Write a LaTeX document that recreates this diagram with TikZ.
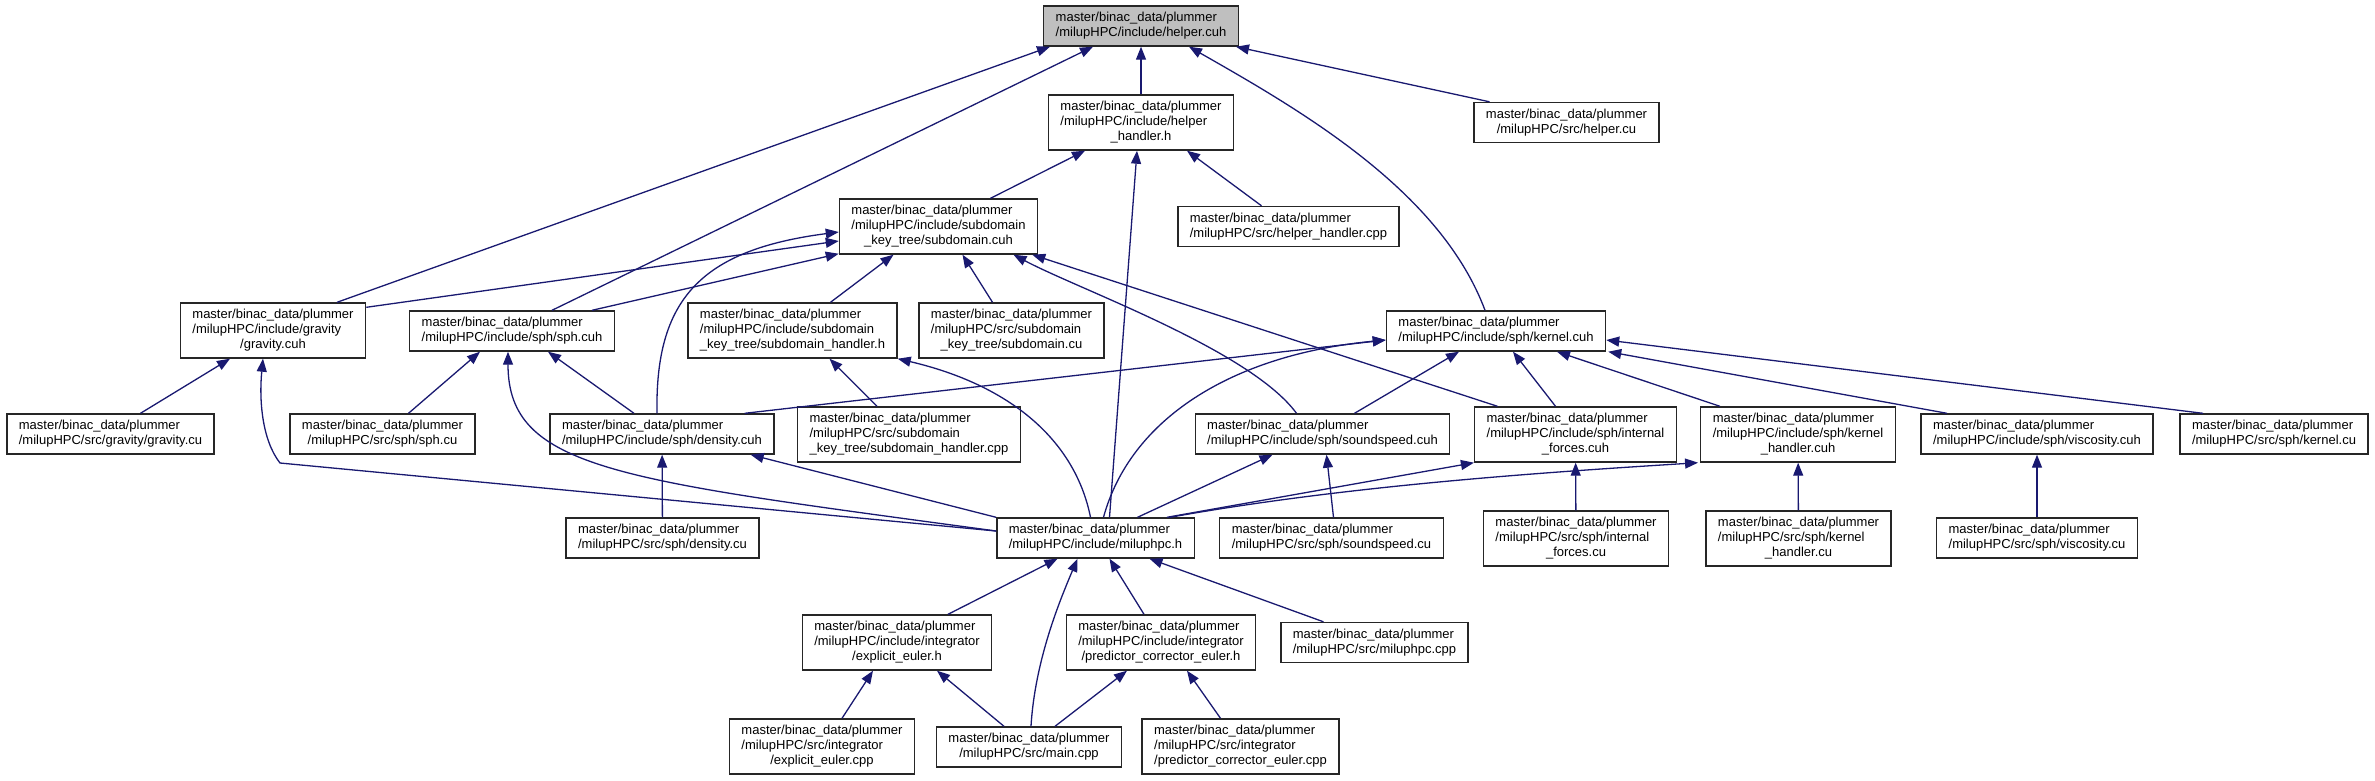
\documentclass[tikz,border=0pt]{standalone}
\usepackage{fontspec}
\setmainfont{Liberation Sans}
\usetikzlibrary{arrows.meta}
\definecolor{edgeblue}{HTML}{191970}
\definecolor{rootgray}{HTML}{BFBFBF}
\newcommand{\twoline}[2]{\begin{tabular}{@{}l@{}}#1\\\multicolumn{1}{@{}c@{}}{#2}\end{tabular}}
\newcommand{\threeline}[3]{\begin{tabular}{@{}l@{}}#1\\#2\\\multicolumn{1}{@{}c@{}}{#3}\end{tabular}}
\begin{document}
\begin{tikzpicture}[
  x=1pt, y=-1pt,
  file/.style={draw=black!85, line width=1.4pt, fill=white, inner xsep=12pt, inner ysep=5pt, font=\fontsize{13}{15}\selectfont},
  rootfile/.style={file, fill=rootgray},
  incl/.style={draw=edgeblue, line width=1.3pt, -{Triangle[length=13pt,width=10pt]}}
]
\useasboundingbox (0,0) rectangle (2375,780);

\node[rootfile] (helper) at (1141,26) {\twoline{master/binac\_data/plummer}{/milupHPC/include/helper.cuh}};
\node[file] (helperh) at (1141,122.5) {\threeline{master/binac\_data/plummer}{/milupHPC/include/helper}{\_handler.h}};
\node[file] (helpercu) at (1566.5,122.5) {\twoline{master/binac\_data/plummer}{/milupHPC/src/helper.cu}};
\node[file] (subdomain) at (938.5,226.5) {\threeline{master/binac\_data/plummer}{/milupHPC/include/subdomain}{\_key\_tree/subdomain.cuh}};
\node[file] (helperhcpp) at (1288.5,226.5) {\twoline{master/binac\_data/plummer}{/milupHPC/src/helper\_handler.cpp}};

\node[file] (gravityh) at (273,330.5) {\threeline{master/binac\_data/plummer}{/milupHPC/include/gravity}{/gravity.cuh}};
\node[file] (sphh) at (512,331) {\twoline{master/binac\_data/plummer}{/milupHPC/include/sph/sph.cuh}};
\node[file] (subdomainh) at (792.5,330.5) {\threeline{master/binac\_data/plummer}{/milupHPC/include/subdomain}{\_key\_tree/subdomain\_handler.h}};
\node[file] (subdomaincu) at (1011.5,330.5) {\threeline{master/binac\_data/plummer}{/milupHPC/src/subdomain}{\_key\_tree/subdomain.cu}};
\node[file] (kernelh) at (1496,331) {\twoline{master/binac\_data/plummer}{/milupHPC/include/sph/kernel.cuh}};

\node[file] (gravitycu) at (110.5,434) {\twoline{master/binac\_data/plummer}{/milupHPC/src/gravity/gravity.cu}};
\node[file] (sphcu) at (382.5,434) {\twoline{master/binac\_data/plummer}{/milupHPC/src/sph/sph.cu}};
\node[file] (densityh) at (662,434) {\twoline{master/binac\_data/plummer}{/milupHPC/include/sph/density.cuh}};
\node[file] (subdomainhcpp) at (909,434.5) {\threeline{master/binac\_data/plummer}{/milupHPC/src/subdomain}{\_key\_tree/subdomain\_handler.cpp}};
\node[file] (soundspeedh) at (1322.5,434) {\twoline{master/binac\_data/plummer}{/milupHPC/include/sph/soundspeed.cuh}};
\node[file] (forcesh) at (1575.5,434.5) {\threeline{master/binac\_data/plummer}{/milupHPC/include/sph/internal}{\_forces.cuh}};
\node[file] (kernelhh) at (1798,434.5) {\threeline{master/binac\_data/plummer}{/milupHPC/include/sph/kernel}{\_handler.cuh}};
\node[file] (viscosityh) at (2037,434) {\twoline{master/binac\_data/plummer}{/milupHPC/include/sph/viscosity.cuh}};
\node[file] (kernelcu) at (2274,434) {\twoline{master/binac\_data/plummer}{/milupHPC/src/sph/kernel.cu}};

\node[file] (densitycu) at (662.5,538) {\twoline{master/binac\_data/plummer}{/milupHPC/src/sph/density.cu}};
\node[file] (miluphpch) at (1095.5,538) {\twoline{master/binac\_data/plummer}{/milupHPC/include/miluphpc.h}};
\node[file] (soundspeedcu) at (1331.5,538) {\twoline{master/binac\_data/plummer}{/milupHPC/src/sph/soundspeed.cu}};
\node[file] (forcescu) at (1576,538.5) {\threeline{master/binac\_data/plummer}{/milupHPC/src/sph/internal}{\_forces.cu}};
\node[file] (kernelhcu) at (1798.5,538.5) {\threeline{master/binac\_data/plummer}{/milupHPC/src/sph/kernel}{\_handler.cu}};
\node[file] (viscositycu) at (2037,538) {\twoline{master/binac\_data/plummer}{/milupHPC/src/sph/viscosity.cu}};

\node[file] (eulerh) at (897,642.5) {\threeline{master/binac\_data/plummer}{/milupHPC/include/integrator}{/explicit\_euler.h}};
\node[file] (predh) at (1161,642.5) {\threeline{master/binac\_data/plummer}{/milupHPC/include/integrator}{/predictor\_corrector\_euler.h}};
\node[file] (miluphpccpp) at (1374.5,642.5) {\twoline{master/binac\_data/plummer}{/milupHPC/src/miluphpc.cpp}};

\node[file] (eulercpp) at (822,746.5) {\threeline{master/binac\_data/plummer}{/milupHPC/src/integrator}{/explicit\_euler.cpp}};
\node[file] (maincpp) at (1029,747) {\twoline{master/binac\_data/plummer}{/milupHPC/src/main.cpp}};
\node[file] (predcpp) at (1240.5,746.5) {\threeline{master/binac\_data/plummer}{/milupHPC/src/integrator}{/predictor\_corrector\_euler.cpp}};

\coordinate (gbend) at (280,463);

\draw[incl] ([xshift=64pt]gravityh.north) -- ([xshift=-91pt]helper.south);
\draw[incl] ([xshift=40pt]sphh.north) -- ([xshift=-48pt]helper.south);
\draw[incl] (helperh) -- (helper);
\draw[incl] ([xshift=-11pt]kernelh.north) .. controls (1440,190) and (1300,110) .. ([xshift=48pt]helper.south);
\draw[incl] ([xshift=-77pt]helpercu.north) -- ([xshift=-3pt]helper.south east);

\draw[incl] ([xshift=52pt]subdomain.north) -- ([xshift=-56pt]helperh.south);
\draw[incl] ([xshift=-27pt]helperhcpp.north) -- ([xshift=46pt]helperh.south);
\draw[incl] ([xshift=14pt]miluphpch.north) -- ([xshift=-4pt]helperh.south);

\draw[incl] ([yshift=-5pt]gravityh.north east) -- ([yshift=-14.5pt]subdomain.west);
\draw[incl] ([xshift=80pt]sphh.north) -- ([yshift=1pt]subdomain.south west);
\draw[incl] ([xshift=-5pt]densityh.north) .. controls (655,300) and (700,250) .. ([yshift=-5.5pt]subdomain.west);
\draw[incl] ([xshift=38pt]subdomainh.north) -- ([xshift=-45pt]subdomain.south);
\draw[incl] ([xshift=-19pt]subdomaincu.north) -- ([xshift=24pt]subdomain.south);
\draw[incl] ([xshift=-26pt]soundspeedh.north) .. controls (1250,350) and (1080,290) .. ([xshift=75pt]subdomain.south);
\draw[incl] ([xshift=-78pt]forcesh.north) -- ([xshift=-6pt]subdomain.south east);

\draw[incl] ([xshift=-32pt]subdomainhcpp.north) -- ([xshift=37pt]subdomainh.south);
\draw[incl] ([xshift=-5pt]miluphpch.north) .. controls (1075,440) and (1010,385) .. (subdomainh.south east);

\draw[incl] ([xshift=-30pt]densityh.north east) -- ([yshift=-9pt]kernelh.west);
\draw[incl] ([xshift=8pt]miluphpch.north) .. controls (1130,420) and (1230,355) .. ([yshift=-9pt]kernelh.west);
\draw[incl] ([xshift=32pt]soundspeedh.north) -- ([xshift=-37pt]kernelh.south);
\draw[incl] ([xshift=-20pt]forcesh.north) -- ([xshift=17pt]kernelh.south);
\draw[incl] ([xshift=-78pt]kernelhh.north) -- ([xshift=61pt]kernelh.south);
\draw[incl] ([xshift=-90pt]viscosityh.north) -- ([xshift=2pt]kernelh.south east);
\draw[incl] ([xshift=-71pt]kernelcu.north) -- ([yshift=-9pt]kernelh.east);

\draw[incl] ([xshift=26pt]sphcu.north) -- ([xshift=-32pt]sphh.south);
\draw[incl] ([xshift=-28pt]densityh.north) -- ([xshift=36pt]sphh.south);
\draw[incl] ([yshift=7pt]miluphpch.west) .. controls (620,480) and (508,470) .. ([xshift=-4pt]sphh.south);
\draw[incl] ([xshift=30pt]gravitycu.north) -- ([xshift=-43pt]gravityh.south);
\draw[incl] ([yshift=7pt]miluphpch.west) -- (gbend) .. controls (262,440) and (259,400) .. ([xshift=-10pt]gravityh.south);

\draw[incl] (densitycu) -- (densityh);
\draw[incl] (miluphpch.north west) -- ([xshift=-24pt]densityh.south east);

\draw[incl] ([xshift=2pt]soundspeedcu.north) -- ([xshift=4pt]soundspeedh.south);
\draw[incl] ([xshift=42pt]miluphpch.north) -- ([xshift=-50pt]soundspeedh.south);
\draw[incl] ([xshift=-28pt]miluphpch.north east) -- (forcesh.south west);
\draw[incl] ([xshift=-25pt]miluphpch.north east) .. controls (1350,485) and (1550,472) .. ([xshift=-2pt]kernelhh.south west);
\draw[incl] (forcescu) -- (forcesh);
\draw[incl] (kernelhcu) -- (kernelhh);
\draw[incl] (viscositycu) -- (viscosityh);

\draw[incl] ([xshift=51pt]eulerh.north) -- ([xshift=-38pt]miluphpch.south);
\draw[incl] ([xshift=2pt]maincpp.north) .. controls (1035,660) and (1060,600) .. ([xshift=-18pt]miluphpch.south);
\draw[incl] ([xshift=-17pt]predh.north) -- ([xshift=14pt]miluphpch.south);
\draw[incl] ([xshift=-51pt]miluphpccpp.north) -- ([xshift=54pt]miluphpch.south);
\draw[incl] ([xshift=20pt]eulercpp.north) -- ([xshift=-24pt]eulerh.south);
\draw[incl] ([xshift=-25pt]maincpp.north) -- ([xshift=40pt]eulerh.south);
\draw[incl] ([xshift=26pt]maincpp.north) -- ([xshift=-34pt]predh.south);
\draw[incl] ([xshift=-20pt]predcpp.north) -- ([xshift=26pt]predh.south);
\end{tikzpicture}
\end{document}
